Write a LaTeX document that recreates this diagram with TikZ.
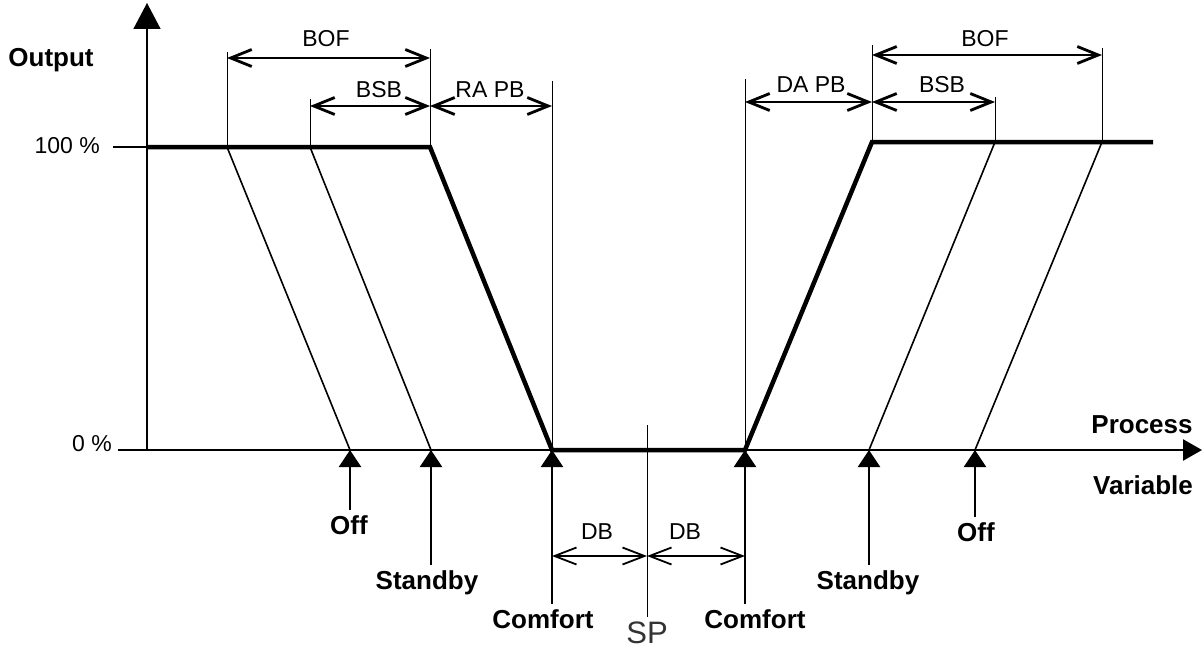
\documentclass[tikz,border=0pt]{standalone}
\usepackage{fontspec}
\setmainfont{Liberation Sans}
\usetikzlibrary{arrows.meta}

\begin{document}
\begin{tikzpicture}[x=1pt,y=-1pt,line join=miter,
		guide/.style={line width=1pt},
		slope/.style={line width=1.6pt},
		profile/.style={line width=4.5pt},
		dim/.style={line width=2.8pt,{Straight Barb[length=21pt,width=17pt]}-{Straight Barb[length=21pt,width=17pt]}},
		dimsmall/.style={line width=1.8pt,{Straight Barb[length=22pt,width=17pt]}-{Straight Barb[length=22pt,width=17pt]}},
		marker/.style={line width=2.2pt,-{Triangle[length=17pt,width=22pt]}},
		lbl/.style={font=\fontsize{23}{26}\selectfont,inner sep=0pt},
		bold/.style={font=\bfseries\fontsize{26}{30}\selectfont},
		blbl/.style={bold,inner sep=5pt,anchor=base}]
	\useasboundingbox (0,0) rectangle (1204,650);

	% axes
	\coordinate (o) at (147,450);
	\coordinate (ytop) at (147,3);
	\coordinate (x0) at (118,450);
	\coordinate (xend) at (1202,450);
	\coordinate (t100) at (113,147);
	\coordinate (y100) at (147,147);
	\draw[line width=1.5pt,-{Triangle[length=26pt,width=27pt]}] (o) -- (ytop);
	\draw[line width=2.5pt,-{Triangle[length=19pt,width=21pt]}] (x0) -- (xend);
	\draw[line width=2pt] (t100) -- (y100);

	\node[bold] (output) at (51,60) {Output};
	\node[lbl,anchor=east] (p100) at (100,146) {100 \%};
	\node[lbl,anchor=east] (p0) at (112,444) {0 \%};
	\node[bold] (process) at (1142,425) {Process};
	\node[bold] (variable) at (1143,485) {Variable};

	% characteristic
	\coordinate (ra) at (430,147);
	\coordinate (cl) at (552,450);
	\coordinate (cr) at (745,450);
	\coordinate (da) at (872,142);
	\coordinate (pend) at (1153,142);
	\draw[profile] (y100) -- (ra) -- (cl) -- (cr) -- (da) -- (pend);

	\coordinate (offLt) at (227,147);
	\coordinate (offLb) at (350,450);
	\coordinate (sbLt) at (310,147);
	\coordinate (sbLb) at (431,450);
	\coordinate (sbRt) at (995,142);
	\coordinate (sbRb) at (869,450);
	\coordinate (offRt) at (1102,142);
	\coordinate (offRb) at (975,450);
	\draw[slope] (offLt) -- (offLb)
		(sbLt) -- (sbLb)
		(sbRt) -- (sbRb)
		(offRt) -- (offRb);

	% guide lines
	\coordinate (g1) at (227,52);
	\coordinate (g2) at (310,99);
	\coordinate (g3) at (430,49);
	\coordinate (g4) at (552,81);
	\coordinate (g5) at (745,79);
	\coordinate (g6) at (872,45);
	\coordinate (g7) at (995,97);
	\coordinate (g8) at (1102,48);
	\coordinate (spt) at (647,425);
	\coordinate (spb) at (647,617);
	\draw[guide] (g1) -- (offLt)
		(g2) -- (sbLt)
		(g3) -- (ra)
		(g4) -- (cl)
		(g5) -- (cr)
		(g6) -- (da)
		(g7) -- (sbRt)
		(g8) -- (offRt)
		(spt) -- (spb);

	% bands
	\coordinate (bofLa) at (227,58);
	\coordinate (bofLb) at (430,58);
	\coordinate (bsbLa) at (310,106);
	\coordinate (bsbLb) at (430,106);
	\coordinate (rapb) at (552,106);
	\coordinate (dapb) at (745,102);
	\coordinate (bsbRa) at (872,102);
	\coordinate (bsbRb) at (995,102);
	\coordinate (bofRa) at (872,55);
	\coordinate (bofRb) at (1102,55);
	\coordinate (dbl) at (552,556);
	\coordinate (dbm) at (647,556);
	\coordinate (dbr) at (745,556);
	\draw[dim] (bofLa) -- (bofLb);
	\draw[dim] (bsbLa) -- (bsbLb);
	\draw[dim] (bsbLb) -- (rapb);
	\draw[dim] (dapb) -- (bsbRa);
	\draw[dim] (bsbRa) -- (bsbRb);
	\draw[dim] (bofRa) -- (bofRb);
	\draw[dimsmall] (dbl) -- (dbm);
	\draw[dimsmall] (dbm) -- (dbr);

	\node[lbl] (bofL) at (326,39) {BOF};
	\node[lbl] (bsbL) at (379,90) {BSB};
	\node[lbl] (raL) at (490,90) {RA PB};
	\node[lbl] (daR) at (811,85) {DA PB};
	\node[lbl] (bsbR) at (942,85) {BSB};
	\node[lbl] (bofR) at (985,39) {BOF};
	\node[lbl] (db1) at (597,532) {DB};
	\node[lbl] (db2) at (685,532) {DB};
	\node[font=\fontsize{31}{34}\selectfont,text=black!80,inner sep=0pt] (sp) at (647,633) {SP};

	% operating modes
	\node[blbl] (offL) at (349,534) {Off};
	\node[blbl] (sbL) at (427,589) {Standby};
	\node[blbl] (cfL) at (543,628) {Comfort};
	\node[blbl] (cfR) at (755,628) {Comfort};
	\node[blbl] (sbR) at (868,589) {Standby};
	\node[blbl] (offR) at (976,541) {Off};
	\draw[marker] (offL.north -| offLb) -- (offLb);
	\draw[marker] (sbL.north -| sbLb) -- (sbLb);
	\draw[marker] (cfL.north -| cl) -- (cl);
	\draw[marker] (cfR.north -| cr) -- (cr);
	\draw[marker] (sbR.north -| sbRb) -- (sbRb);
	\draw[marker] (offR.north -| offRb) -- (offRb);
\end{tikzpicture}
\end{document}
